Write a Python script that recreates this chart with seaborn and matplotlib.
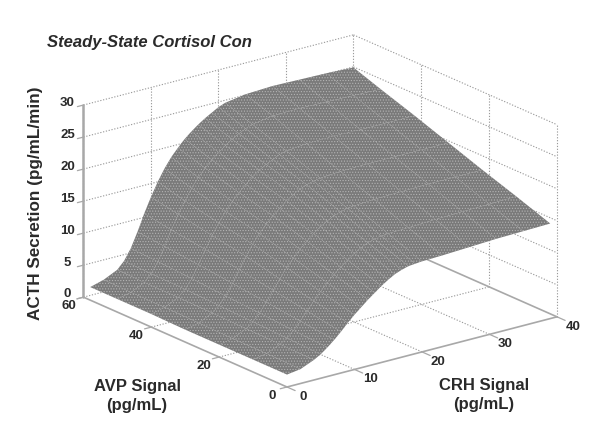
import matplotlib
matplotlib.use("Agg")
import numpy as np
import matplotlib.pyplot as plt
import seaborn as sns
from mpl_toolkits.mplot3d import proj3d

sns.set_theme(style="white")
plt.rcParams["font.family"] = ["Liberation Sans", "DejaVu Sans"]
plt.rcParams["hatch.linewidth"] = 0.5

TITLE = "Steady-State Cortisol Con"
Z_LABEL = "ACTH Secretion (pg/mL/min)"
Y_LABEL = "AVP Signal\n(pg/mL)"
X_LABEL = "CRH Signal\n(pg/mL)"

crh_ticks = [0, 10, 20, 30, 40]
avp_ticks = [0, 20, 40, 60]
acth_ticks = [0, 5, 10, 15, 20, 25, 30]

crh = [1, 3, 5, 6, 7, 8, 9, 10, 11, 12, 13, 14, 15, 16, 17, 18, 19, 20, 21, 24, 28, 32, 36, 40]
avp = [2, 12, 22, 32, 42, 52, 60]
acth_avp2 = [1.2, 1.5, 2.4, 3.0, 3.8, 4.7, 5.7, 6.8, 7.8, 8.7, 9.6, 10.4, 11.2, 11.9, 12.5, 12.9, 13.2, 13.3, 13.4, 13.5, 13.7, 13.9, 14.0, 14.1]
acth_avp12 = [1.2, 1.6, 2.5, 3.2, 4.1, 5.3, 6.6, 7.9, 9.1, 10.2, 11.2, 12.1, 12.9, 13.7, 14.3, 14.8, 15.1, 15.3, 15.4, 15.5, 15.7, 15.8, 15.9, 16.0]
acth_avp22 = [1.2, 1.6, 2.6, 3.4, 4.5, 5.9, 7.5, 9.0, 10.5, 11.7, 12.8, 13.8, 14.7, 15.5, 16.1, 16.7, 17.0, 17.3, 17.4, 17.6, 17.7, 17.8, 17.8, 17.8]
acth_avp32 = [1.2, 1.7, 2.7, 3.6, 4.8, 6.5, 8.4, 10.2, 11.8, 13.2, 14.4, 15.4, 16.3, 17.2, 17.9, 18.5, 18.9, 19.2, 19.4, 19.6, 19.7, 19.7, 19.7, 19.7]
acth_avp42 = [1.3, 1.8, 2.8, 3.8, 5.2, 7.1, 9.2, 11.1, 12.8, 14.3, 15.6, 16.7, 17.7, 18.6, 19.4, 20.0, 20.5, 21.0, 21.3, 21.6, 21.7, 21.6, 21.6, 21.6]
acth_avp52 = [1.3, 1.8, 2.8, 3.9, 5.5, 7.6, 9.9, 12.1, 13.9, 15.6, 17.0, 18.2, 19.2, 20.1, 20.9, 21.6, 22.2, 22.7, 23.1, 23.6, 23.7, 23.6, 23.5, 23.4]
acth_avp60 = [1.3, 1.9, 2.9, 4.0, 5.7, 8.0, 10.6, 12.9, 15.0, 16.8, 18.3, 19.5, 20.6, 21.5, 22.3, 23.0, 23.6, 24.2, 24.6, 25.1, 25.3, 25.2, 25.1, 24.9]

acth = np.array([acth_avp2, acth_avp12, acth_avp22, acth_avp32, acth_avp42, acth_avp52, acth_avp60])
X, Y = np.meshgrid(crh, avp)

GRID = "#9a9a9a"
AXIS = "#a8a8a8"
INK = "#2a2a2a"

fig = plt.figure(figsize=(6, 4.25), dpi=100)
ax = fig.add_axes([0.1, 0, 0.7083, 1], projection="3d", proj_type="ortho", computed_zorder=False)
ax.view_init(elev=19.8, azim=-127.5)
ax.set_xlim(0, 40, view_margin=0)
ax.set_ylim(0, 60, view_margin=0)
ax.set_zlim(0, 30, view_margin=0)
aspect = (340, 334, 204)
ax.set_box_aspect(aspect, zoom=1)
ax.set_axis_off()


def line(xs, ys, zs, solid=False, lw=None):
    if solid:
        ax.plot(xs, ys, zs, color=AXIS, lw=lw or 1.2, ls="-", zorder=1.5, clip_on=False)
    else:
        ax.plot(xs, ys, zs, color=GRID, lw=lw or 0.8, ls=(0, (1.1, 1.5)), zorder=1, clip_on=False)


for v in acth_ticks[1:]:
    line([0, 40], [60, 60], [v, v])
    line([40, 40], [60, 0], [v, v])
for c in crh_ticks:
    line([c, c], [60, 60], [0, 30])
    if 0 < c < 40:
        line([c, c], [0, 60], [0, 0])
for a in avp_ticks[:-1]:
    line([40, 40], [a, a], [0, 30])
    if a > 0:
        line([0, 40], [a, a], [0, 0])
line([0, 40], [60, 60], [0, 0])

line([40, 40], [0, 60], [0, 0], solid=True)
ax.plot_surface(X, Y, acth, rstride=1, cstride=1, color="#7a7a7a", shade=False,
                linewidth=0, edgecolor="#b4b4b4", antialiased=True, hatch="......",
                zorder=3, clip_on=False)
line([0, 40], [0, 0], [0, 0], solid=True)
line([0, 0], [0, 60], [0, 0], solid=True)
line([0, 0], [60, 60], [0, 30], solid=True, lw=1.8)

for v in acth_ticks:
    line([0, -0.9], [60, 60], [v, v], solid=True, lw=0.9)
for a in avp_ticks:
    line([0, -1.0], [a, a], [0, 0], solid=True, lw=0.9)
for c in crh_ticks:
    line([c, c], [0, -2.4], [0, 0], solid=True, lw=0.9)


def to_px(x, y, z):
    xp, yp, _ = proj3d.proj_transform(x, y, z, ax.get_proj())
    return ax.transData.transform((xp, yp))


# Fit the box on the canvas: front floor corner, CRH axis length
fig.canvas.draw()
span = to_px(40, 0, 0)[0] - to_px(0, 0, 0)[0]
ax.set_box_aspect(aspect, zoom=270 / span)
fig.canvas.draw()
p = to_px(0, 0, 0)
target = np.array([287, 425 - 387])
dx, dy = (target - p) / np.array([600, 425])
pos = ax.get_position(original=True)
ax.set_position([pos.x0 + dx, pos.y0 + dy, pos.width, pos.height])
fig.canvas.draw()


def tick_label(point, off, s):
    q = to_px(*point)
    fig.text((q[0] + off[0]) / 600, (q[1] - off[1]) / 425, s, fontsize=9.5, fontweight="bold",
             color=INK, ha="center", va="center")


for v in acth_ticks:
    tick_label((0, 60, v), (-16, -2 if v > 3 else -3), str(v))
for a in avp_ticks:
    tick_label((0, a, 0), (-15, 9), str(a))
for c in crh_ticks:
    tick_label((c, 0, 0), (16, 10), str(c))

fig.text(47 / 600, 1 - 42 / 425, TITLE, fontsize=12, fontweight="bold", style="italic",
         color=INK, ha="left", va="center")
fig.text(36 / 600, 1 - 203 / 425, Z_LABEL, fontsize=12.3, fontweight="bold", rotation=90,
         color=INK, ha="center", va="center")
fig.text(137 / 600, 1 - 396 / 425, Y_LABEL, fontsize=12, fontweight="bold",
         color=INK, ha="center", va="center", linespacing=1.4)
fig.text(484 / 600, 1 - 395 / 425, X_LABEL, fontsize=12, fontweight="bold",
         color=INK, ha="center", va="center", linespacing=1.4)

fig.savefig("out.png", dpi=100, facecolor="white")
